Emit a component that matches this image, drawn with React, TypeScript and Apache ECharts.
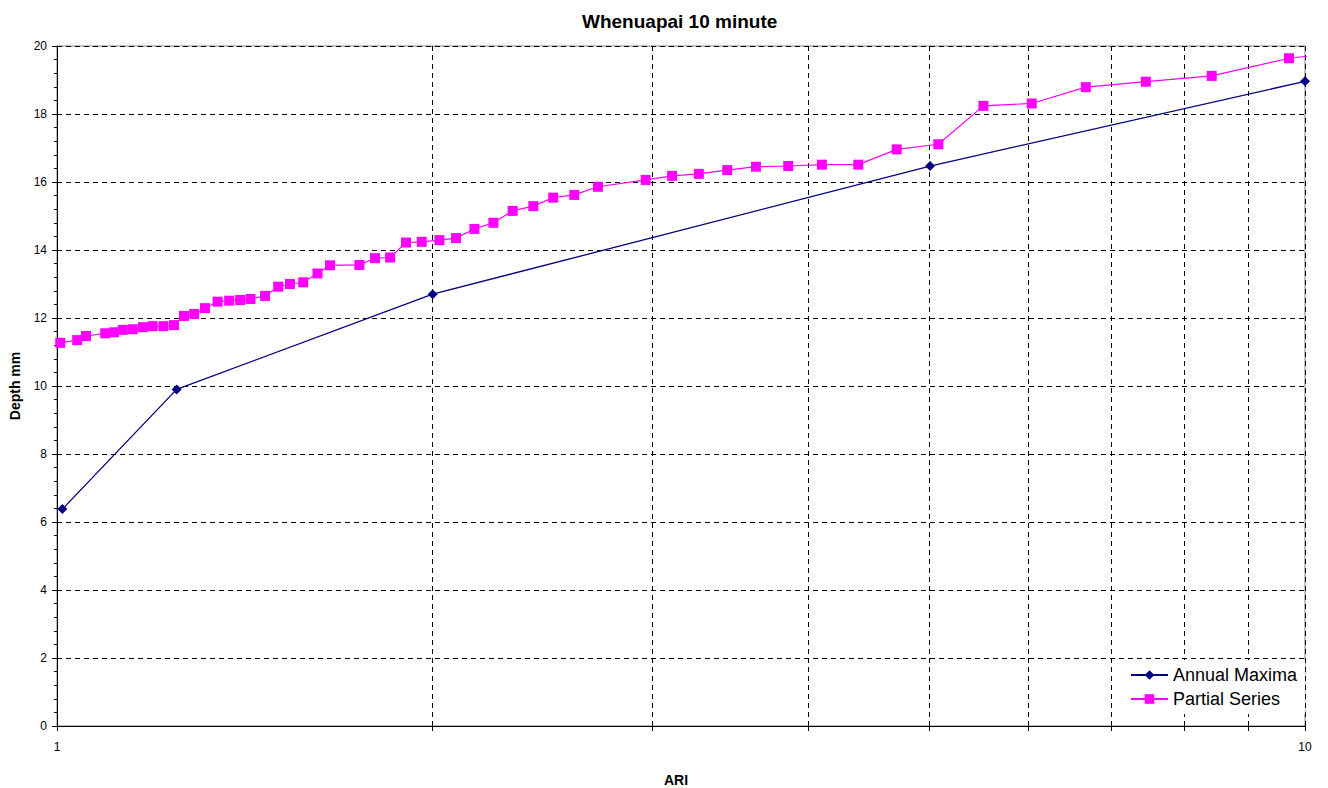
import React, { useEffect, useRef } from "react";
import * as echarts from "echarts";

// Annual Maxima (ARI, depth mm)
const amARI = [1.01, 1.247, 2.0, 5.007, 10.0];
const amDepth = [6.38, 9.9, 12.7, 16.47, 18.96];

// Partial Series (ARI, depth mm)
const psARI = [
  1.006, 1.038, 1.055, 1.093, 1.111, 1.129, 1.15, 1.172, 1.193, 1.217,
  1.241, 1.264, 1.288, 1.314, 1.345, 1.374, 1.402, 1.429, 1.468, 1.504,
  1.537, 1.575, 1.617, 1.655, 1.747, 1.798, 1.849, 1.904, 1.96, 2.025,
  2.088, 2.16, 2.237, 2.318, 2.408, 2.498, 2.597, 2.713, 2.963, 3.111,
  3.268, 3.444, 3.631, 3.854, 4.101, 4.386, 4.708, 5.084, 5.525, 6.04,
  6.674, 7.455, 8.419, 9.709, 11.5,
];
const psDepth = [
  11.27, 11.35, 11.47, 11.55, 11.58, 11.65, 11.67, 11.73, 11.76, 11.76,
  11.79, 12.06, 12.12, 12.29, 12.48, 12.51, 12.53, 12.56, 12.65, 12.92,
  13.0, 13.05, 13.31, 13.55, 13.56, 13.76, 13.78, 14.22, 14.24, 14.29,
  14.35, 14.62, 14.8, 15.15, 15.29, 15.54, 15.62, 15.86, 16.06, 16.18,
  16.24, 16.35, 16.45, 16.47, 16.51, 16.51, 16.96, 17.11, 18.24, 18.31,
  18.79, 18.95, 19.12, 19.64, 19.94,
];

// Axis ticks
const xTickValues = [1, 2, 3, 4, 5, 6, 7, 8, 9, 10];
const xLabelValues = [1, 10];

const FONT = "Arial, 'Liberation Sans', sans-serif";

export default function App() {
  const ref = useRef<HTMLDivElement>(null);

  useEffect(() => {
    if (!ref.current) return;
    const chart = echarts.init(ref.current, undefined, { renderer: "svg" });
    const amData = amARI.map((x, i) => [x, amDepth[i]]);
    const psData = psARI.map((x, i) => [x, psDepth[i]]);
    const dashed = { color: "#000", width: 1, type: [5, 4] as number[] };

    chart.setOption({
      animation: false,
      backgroundColor: "#fff",
      title: {
        text: "Whenuapai 10 minute",
        left: 577,
        top: 7,
        textStyle: { fontFamily: FONT, fontSize: 19, fontWeight: "bold", color: "#000" },
      },
      grid: {
        left: 57,
        top: 46,
        right: 23,
        bottom: 62,
        outerBoundsMode: "none",
        containLabel: false,
        show: true,
        borderColor: "#808080",
        borderWidth: 1,
        backgroundColor: "transparent",
      },
      legend: {
        orient: "vertical",
        left: 1116,
        top: 660,
        width: 180,
        backgroundColor: "#fff",
        padding: [6, 8, 6, 14],
        itemGap: 6,
        itemWidth: 37,
        itemHeight: 12,
        textStyle: { fontFamily: FONT, fontSize: 18, color: "#000" },
        data: ["Annual Maxima", "Partial Series"],
      },
      xAxis: {
        type: "log",
        logBase: 10,
        min: 1,
        max: 10,
        name: "ARI",
        nameLocation: "middle",
        nameGap: 47,
        nameTextStyle: {
          fontFamily: FONT,
          fontSize: 14,
          fontWeight: "bold",
          color: "#000",
          padding: [0, 10, 0, 0],
        },
        axisLine: { show: true, onZero: false, lineStyle: { color: "#000", width: 1 } },
        axisTick: { show: true, length: 5, customValues: xTickValues, lineStyle: { color: "#000" } },
        axisLabel: {
          customValues: xLabelValues,
          fontFamily: FONT,
          fontSize: 12,
          color: "#000",
          margin: 15,
        },
        splitLine: { show: true, lineStyle: dashed },
        minorTick: { show: false },
        minorSplitLine: { show: false },
      },
      yAxis: {
        type: "value",
        min: 0,
        max: 20,
        interval: 2,
        name: "Depth mm",
        nameLocation: "middle",
        nameGap: 35,
        nameTextStyle: { fontFamily: FONT, fontSize: 14, fontWeight: "bold", color: "#000" },
        axisLine: { show: true, lineStyle: { color: "#000", width: 1 } },
        axisTick: { show: true, length: 5, lineStyle: { color: "#000" } },
        minorTick: { show: true, splitNumber: 5, length: 3, lineStyle: { color: "#000" } },
        axisLabel: { fontFamily: FONT, fontSize: 12, color: "#000", margin: 10 },
        splitLine: { show: true, lineStyle: dashed },
      },
      series: [
        {
          name: "Annual Maxima",
          type: "line",
          data: amData,
          clip: true,
          symbol: "diamond",
          symbolSize: 10,
          showAllSymbol: true,
          lineStyle: { color: "#000080", width: 1.3 },
          itemStyle: { color: "#000080" },
          z: 3,
        },
        {
          name: "Partial Series",
          type: "line",
          data: psData,
          clip: true,
          symbol: "rect",
          symbolSize: 10,
          showAllSymbol: true,
          lineStyle: { color: "#ff00ff", width: 1.2 },
          itemStyle: { color: "#ff00ff" },
          z: 2,
        },
      ],
    });

    return () => chart.dispose();
  }, []);

  return (
    <div
      ref={ref}
      style={{ position: "fixed", left: 0, top: 0, width: 1328, height: 788, background: "#fff" }}
    />
  );
}
